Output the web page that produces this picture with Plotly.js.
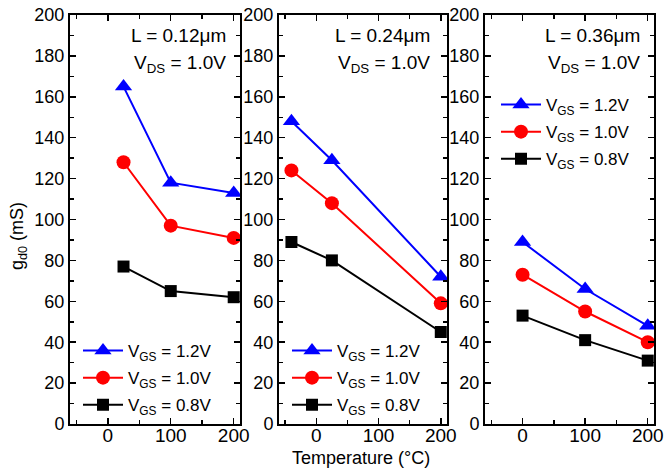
<!DOCTYPE html>
<html>
<head>
<meta charset="utf-8">
<script src="https://cdn.plot.ly/plotly-3.0.1.min.js"></script>
<style>html,body{margin:0;padding:0;background:#fff;}#chart{width:665px;height:472px;}</style>
</head>
<body>
<div id="chart"></div>
<script>
// Temperature (°C) per panel
const temp1 = [25, 100, 200];
const temp2 = [-40, 25, 200];
const temp3 = [0, 100, 200];
// g_d0 (mS), L = 0.12 µm
const p1_vgs12 = [165, 118, 113];
const p1_vgs10 = [128, 97, 91];
const p1_vgs08 = [77, 65, 62];
// L = 0.24 µm
const p2_vgs12 = [148, 129, 72];
const p2_vgs10 = [124, 108, 59];
const p2_vgs08 = [89, 80, 45];
// L = 0.36 µm
const p3_vgs12 = [89, 66, 48];
const p3_vgs10 = [73, 55, 40];
const p3_vgs08 = [53, 41, 31];

const seriesNames = ['V<sub>GS</sub> = 1.2V', 'V<sub>GS</sub> = 1.0V', 'V<sub>GS</sub> = 0.8V'];
const panelLabels = ['L = 0.12μm', 'L = 0.24μm', 'L = 0.36μm'];
const vdsLabel = 'V<sub>DS</sub> = 1.0V';
const yTitle = 'g<sub>d0</sub> (mS)';
const xTitle = 'Temperature (°C)';

const FONT = '"Liberation Sans", Arial, Helvetica, sans-serif';
const W = 665, H = 472, MT = 15, MB = 48;
const PH = H - MT - MB;
const px = v => v / W;
const py = v => (H - MB - v) / PH;

const styles = [
  {color: '#0000ff', symbol: 'triangle-up', size: 15},
  {color: '#ff0000', symbol: 'circle', size: 14},
  {color: '#000000', symbol: 'square', size: 12}
];

const panels = [
  {x: temp1, ys: [p1_vgs12, p1_vgs10, p1_vgs08]},
  {x: temp2, ys: [p2_vgs12, p2_vgs10, p2_vgs08]},
  {x: temp3, ys: [p3_vgs12, p3_vgs10, p3_vgs08]}
];

const traces = [];
panels.forEach((p, i) => {
  const sfx = i === 0 ? '' : String(i + 1);
  p.ys.forEach((y, j) => {
    traces.push({
      x: p.x, y: y, type: 'scatter', mode: 'lines+markers',
      name: seriesNames[j],
      xaxis: 'x' + sfx, yaxis: 'y' + sfx,
      legend: 'legend' + sfx,
      legendgroup: 'p' + i + 's' + j,
      line: {color: styles[j].color, width: 2},
      marker: {color: styles[j].color, symbol: styles[j].symbol, size: styles[j].size}
    });
  });
});

const xDomains = [[px(70), px(240)], [px(279), px(447)], [px(485), px(654)]];

function xa(i) {
  return {
    domain: xDomains[i], anchor: i === 0 ? 'y' : 'y' + (i + 1),
    range: [-60, 210], tickvals: [0, 100, 200], ticktext: ['0', '100', '200'],
    ticks: 'inside', ticklen: 6, tickwidth: 1.5, tickcolor: '#000',
    minor: {tickvals: [-50, 50, 150], ticks: 'inside', ticklen: 4, tickwidth: 1.5, tickcolor: '#000'},
    showline: true, linecolor: '#000', linewidth: 2, mirror: 'ticks',
    showgrid: false, zeroline: false, automargin: false,
    ticklabelstandoff: -7,
    tickfont: {family: FONT, size: 19, color: '#000'}
  };
}
function ya(i) {
  return {
    domain: [0, 1], anchor: i === 0 ? 'x' : 'x' + (i + 1),
    range: [0, 200], dtick: 20, tick0: 0,
    ticks: 'inside', ticklen: 6, tickwidth: 1.5, tickcolor: '#000',
    minor: {dtick: 10, ticks: 'inside', ticklen: 4, tickwidth: 1.5, tickcolor: '#000'},
    showline: true, linecolor: '#000', linewidth: 2, mirror: 'ticks',
    showgrid: false, zeroline: false, automargin: false,
    tickfont: {family: FONT, size: 18, color: '#000'}
  };
}

const legendBase = {
  bgcolor: 'rgba(0,0,0,0)', borderwidth: 0,
  font: {family: FONT, size: 17, color: '#000'},
  itemwidth: 40, tracegroupgap: 2, xanchor: 'left', yanchor: 'top',
  itemclick: false, itemdoubleclick: false
};

const annRight = [228, 432, 642];
const annotations = [];
annRight.forEach((r, i) => {
  annotations.push({xref: 'paper', yref: 'paper', x: px(r), y: py(35), xanchor: 'right', yanchor: 'middle',
    text: panelLabels[i], showarrow: false, font: {family: FONT, size: 19, color: '#000'}});
  annotations.push({xref: 'paper', yref: 'paper', x: px(r), y: py(64), xanchor: 'right', yanchor: 'middle',
    text: vdsLabel, showarrow: false, font: {family: FONT, size: 19, color: '#000'}});
});
annotations.push({xref: 'paper', yref: 'paper', x: px(18), y: py(236), xanchor: 'center', yanchor: 'middle',
  textangle: -90, text: yTitle, showarrow: false, font: {family: FONT, size: 18, color: '#000'}});
annotations.push({xref: 'paper', yref: 'paper', x: px(361), y: py(458), xanchor: 'center', yanchor: 'middle',
  text: xTitle, showarrow: false, font: {family: FONT, size: 18, color: '#000'}});

const layout = {
  width: W, height: H,
  margin: {l: 0, r: 0, t: MT, b: MB, pad: 0},
  paper_bgcolor: '#fff', plot_bgcolor: '#fff',
  showlegend: true,
  xaxis: xa(0), yaxis: ya(0),
  xaxis2: xa(1), yaxis2: ya(1),
  xaxis3: xa(2), yaxis3: ya(2),
  legend: Object.assign({}, legendBase, {x: px(78), y: py(333)}),
  legend2: Object.assign({}, legendBase, {x: px(287), y: py(333)}),
  legend3: Object.assign({}, legendBase, {x: px(496), y: py(87)}),
  annotations: annotations
};

Plotly.newPlot('chart', traces, layout, {staticPlot: true, displayModeBar: false});
</script>
</body>
</html>
